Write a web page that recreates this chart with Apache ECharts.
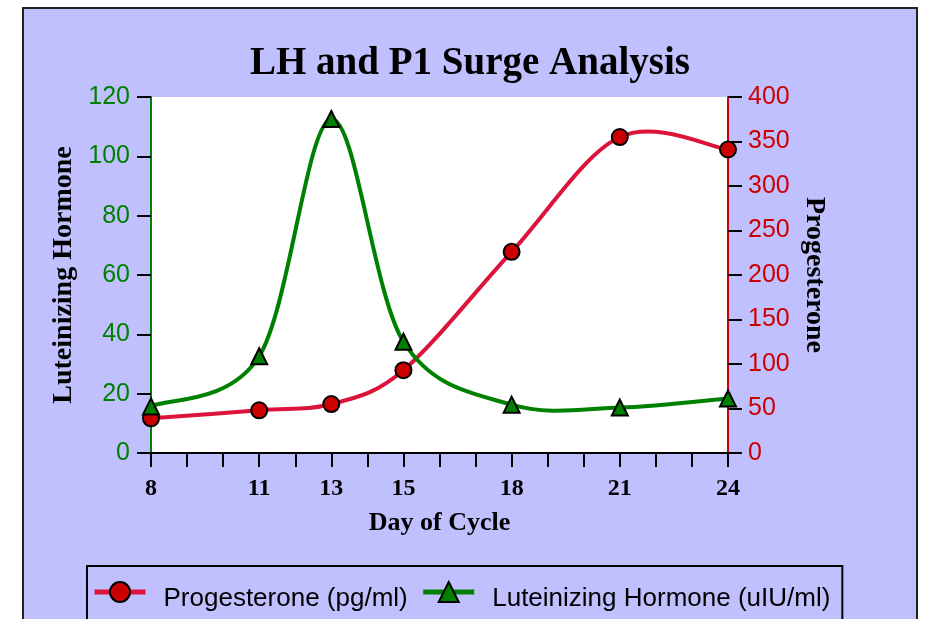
<!DOCTYPE html>
<html>
<head>
<meta charset="utf-8">
<script src="https://cdn.jsdelivr.net/npm/echarts@6/dist/echarts.min.js"></script>
<style>
html,body{margin:0;padding:0;background:#fff;}
#chart{width:927px;height:619px;}
</style>
</head>
<body>
<div id="chart"></div>
<script>
const days = [8, 11, 13, 15, 18, 21, 24];
const lhValues = [15.7, 32.6, 112.6, 37.5, 16.3, 15.3, 18.4];
const progValues = [39, 48, 55, 93, 226, 355, 341];
const xTickLabels = [8, 11, 13, 15, 18, 21, 24];

const serif = '"Liberation Serif", "Times New Roman", serif';
const sans = '"Liberation Sans", Arial, sans-serif';

const progColor = '#dc143c';
const lhColor = '#008000';

// Catmull-Rom smooth curve drawn through the data points, using the axis scales
function splineRenderer(xs, ys, color) {
  return function (params, api) {
    if (params.dataIndex !== 0) return null;
    const p = xs.map((x, i) => api.coord([x, ys[i]]));
    let d = 'M' + p[0][0] + ' ' + p[0][1];
    for (let i = 0; i < p.length - 1; i++) {
      const p0 = p[Math.max(i - 1, 0)];
      const p1 = p[i];
      const p2 = p[i + 1];
      const p3 = p[Math.min(i + 2, p.length - 1)];
      const c1x = p1[0] + (p2[0] - p0[0]) / 6;
      const c1y = p1[1] + (p2[1] - p0[1]) / 6;
      const c2x = p2[0] - (p3[0] - p1[0]) / 6;
      const c2y = p2[1] - (p3[1] - p1[1]) / 6;
      d += ' C' + c1x + ' ' + c1y + ' ' + c2x + ' ' + c2y + ' ' + p2[0] + ' ' + p2[1];
    }
    return {
      type: 'path',
      shape: { pathData: d },
      style: { fill: 'none', stroke: color, lineWidth: 4, lineJoin: 'round' }
    };
  };
}

const chart = echarts.init(document.getElementById('chart'));
const option = {
  backgroundColor: '#ffffff',
  animation: false,
  graphic: [{
    type: 'rect',
    z: -100,
    silent: true,
    shape: { x: 23, y: 8, width: 894, height: 700 },
    style: { fill: '#c0c0ff', stroke: '#222222', lineWidth: 2 }
  }],
  title: {
    text: 'LH and P1 Surge Analysis',
    left: 250,
    top: 44,
    padding: 0,
    textStyle: { fontFamily: serif, fontWeight: 'bold', fontSize: 39, color: '#000' }
  },
  grid: {
    left: 151, right: 199, top: 97, bottom: 166,
    show: true, backgroundColor: '#ffffff', borderWidth: 0
  },
  legend: {
    left: 87, top: 566,
    padding: [15, 12, 10, 5],
    itemGap: 13,
    itemWidth: 51,
    itemHeight: 25,
    borderColor: '#000', borderWidth: 2,
    formatter: name => '{t|' + name + '}',
    textStyle: {
      fontFamily: sans, fontSize: 26, color: '#000',
      rich: { t: { fontFamily: sans, fontSize: 26, color: '#000', padding: [14, 0, 0, 13] } }
    },
    data: [
      { name: 'Progesterone (pg/ml)', lineStyle: { color: progColor, width: 5, opacity: 1 } },
      { name: 'Luteinizing Hormone (uIU/ml)', lineStyle: { color: lhColor, width: 5, opacity: 1 } }
    ]
  },
  xAxis: {
    type: 'value', min: 8, max: 24, interval: 1,
    name: 'Day of Cycle', nameLocation: 'middle', nameGap: 57,
    nameTextStyle: { fontFamily: serif, fontWeight: 'bold', fontSize: 26, color: '#000' },
    axisLine: { show: true, onZero: false, lineStyle: { color: '#000', width: 2 } },
    axisTick: { show: true, length: 14, lineStyle: { color: '#000', width: 2 } },
    axisLabel: {
      margin: 24, fontFamily: serif, fontWeight: 'bold', fontSize: 24, color: '#000',
      formatter: v => xTickLabels.indexOf(v) >= 0 ? String(v) : ''
    },
    splitLine: { show: false }
  },
  yAxis: [{
    type: 'value', position: 'left', min: 0, max: 120, interval: 20,
    name: 'Luteinizing Hormone', nameLocation: 'middle', nameGap: 70,
    nameTextStyle: { fontFamily: serif, fontWeight: 'bold', fontSize: 28, color: '#000' },
    axisLine: { show: true, onZero: false, lineStyle: { color: lhColor, width: 2 } },
    axisTick: { show: true, length: 14, lineStyle: { color: '#000', width: 2 } },
    axisLabel: { margin: 21, fontFamily: sans, fontSize: 25, color: lhColor },
    splitLine: { show: false }
  }, {
    type: 'value', position: 'right', min: 0, max: 400, interval: 50,
    name: 'Progesterone', nameLocation: 'middle', nameGap: 71, nameRotate: -90,
    nameTextStyle: { fontFamily: serif, fontWeight: 'bold', fontSize: 28, color: '#000' },
    axisLine: { show: true, onZero: false, lineStyle: { color: '#cc0000', width: 2 } },
    axisTick: { show: true, length: 14, lineStyle: { color: '#000', width: 2 } },
    axisLabel: { margin: 20, fontFamily: sans, fontSize: 25, color: '#cc0000' },
    splitLine: { show: false }
  }],
  series: [{
    name: 'progCurve', type: 'custom', yAxisIndex: 1, silent: true, z: 1,
    data: days.map((d, i) => [d, progValues[i]]),
    renderItem: splineRenderer(days, progValues, progColor)
  }, {
    name: 'lhCurve', type: 'custom', yAxisIndex: 0, silent: true, z: 1,
    data: days.map((d, i) => [d, lhValues[i]]),
    renderItem: splineRenderer(days, lhValues, lhColor)
  }, {
    name: 'Progesterone (pg/ml)',
    type: 'line', yAxisIndex: 1, z: 3,
    data: days.map((d, i) => [d, progValues[i]]),
    symbol: 'circle', symbolSize: 16,
    lineStyle: { color: progColor, width: 4, opacity: 0 },
    itemStyle: { color: '#cc0000', borderColor: '#000', borderWidth: 2 }
  }, {
    name: 'Luteinizing Hormone (uIU/ml)',
    type: 'line', yAxisIndex: 0, z: 3,
    data: days.map((d, i) => [d, lhValues[i]]),
    symbol: 'triangle', symbolSize: 16,
    lineStyle: { color: lhColor, width: 4, opacity: 0 },
    itemStyle: { color: lhColor, borderColor: '#000', borderWidth: 2 }
  }]
};
chart.setOption(option);
</script>
</body>
</html>
